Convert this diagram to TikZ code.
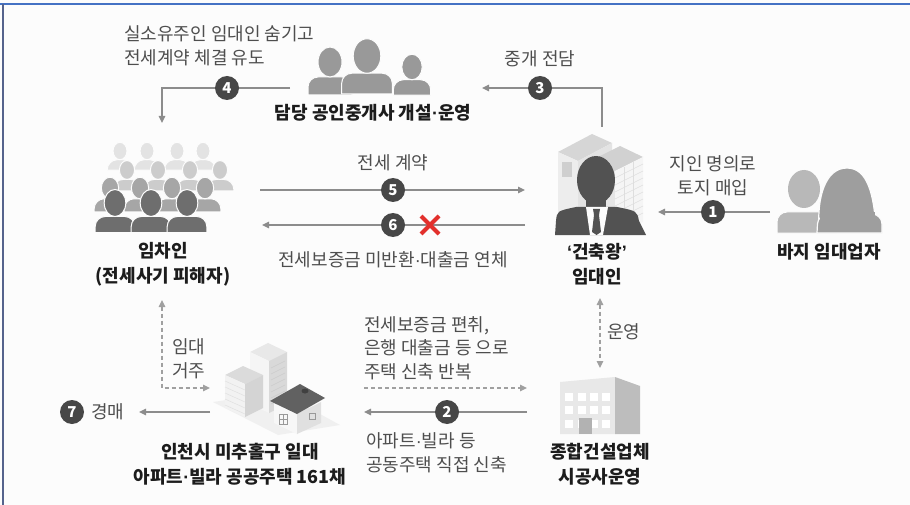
\documentclass[tikz,border=0pt]{standalone}
\usepackage{fontspec}
\setmainfont{Noto Sans CJK KR}
\newfontfamily\narrowfont{Liberation Sans}
\newcommand\mdot{{\narrowfont ·}}
\newcommand\openq{{\narrowfont\bfseries ‘}}
\newcommand\closeq{{\narrowfont\bfseries ’}}
\usetikzlibrary{arrows.meta}
\definecolor{bg}{HTML}{FCFCFC}
\definecolor{txtgray}{HTML}{4E4E4E}
\definecolor{txtdark}{HTML}{1C1C1C}
\definecolor{linegray}{HTML}{8C8C8C}
\definecolor{dashgray}{HTML}{A0A0A0}
\definecolor{circ}{HTML}{474747}
\definecolor{frameblue}{HTML}{4472C4}
\definecolor{frameside}{HTML}{55638C}
\definecolor{xred}{HTML}{E2302C}
\tikzset{
  arr/.style={draw=linegray, line width=1.5pt, -{Triangle[length=7pt,width=6.5pt]}},
  darr/.style={draw=dashgray, line width=1.3pt, dash pattern=on 4pt off 3pt, -{Triangle[length=7pt,width=6.5pt]}},
  ddarr/.style={draw=dashgray, line width=1.3pt, dash pattern=on 4pt off 3pt, {Triangle[length=7pt,width=6.5pt]}-{Triangle[length=7pt,width=6.5pt]}},
  num/.style={circle, fill=circ, text=white, inner sep=0pt, minimum size=24pt, font=\fontsize{15}{15}\selectfont\bfseries},
  note/.style={text=txtgray, inner sep=0pt, font=\fontsize{18}{24.5}\selectfont},
  lbl/.style={text=txtdark, inner sep=0pt, align=center, font=\fontsize{18}{25}\selectfont\bfseries},
  % bust silhouette: head centred on the pic origin, shoulders below it
  pics/person/.style={code={
    \fill[#1, draw=bg, line width=1pt] (-22,33) [rounded corners=10pt] -- (-22,15) -- (22,15) [sharp corners] -- (22,33) -- cycle;
    \fill[#1, draw=bg, line width=1pt] (0,0) ellipse [x radius=12, y radius=15];
  }},
}
\begin{document}
\begin{tikzpicture}[x=1pt,y=-1pt]
\useasboundingbox (0,0) rectangle (910,505);
\fill[bg] (0,0) rectangle (910,505);
\draw[frameblue, line width=1.6pt] (0,4) -- (910,4);
\draw[frameside, line width=2pt] (3,4) -- (3,505);

% ---------- brokers (three silhouettes)
\pic[scale=0.85] at (412,67) {person=black!40};
\pic[scale=1.0] at (330,62) {person=black!40};
\pic[scale=1.15] at (367,56) {person=black!40};
\node[lbl] (broker) at (373,113) {담당 공인중개사 개설\mdot 운영};

% ---------- tenants (crowd)
\foreach \x in {120,147,177,203} \pic[scale=0.58] at (\x,151) {person=black!11};
\foreach \x in {127,158,190,220} \pic[scale=0.63] at (\x,170) {person=black!20};
\foreach \x in {110,140,172,205} \pic[scale=0.72] at (\x,188) {person=black!35};
\foreach \x in {115,151,187} \pic[scale=0.9] at (\x,203) {person=black!57};
\node[lbl] (tenant) at (163,264) {임차인\\(전세사기 피해자)};

% ---------- landlord: buildings behind a suited man
\fill[black!16] (558,152) -- (592,134) -- (612,143) -- (578,161) -- cycle;
\fill[black!7] (558,152) -- (578,161) -- (578,232) -- (558,225) -- cycle;
\fill[black!19] (562,162) rectangle (572,177);
\fill[black!11] (578,161) -- (612,143) -- (612,200) -- (578,215) -- cycle;
\fill[black!18] (592,160) -- (620,146) -- (643,157) -- (615,171) -- cycle;
\fill[black!10] (592,160) -- (615,171) -- (615,235) -- (592,228) -- cycle;
\fill[black!4] (615,171) -- (643,157) -- (643,222) -- (615,235) -- cycle;
\foreach \k in {0,...,7} \draw[black!13, line width=0.6pt] (615,178+7*\k) -- (643,164+7*\k);
\draw[black!13, line width=0.6pt] (624,167) -- (624,232) (633,162) -- (633,228);
\fill[black!68] (586,195) rectangle (606,212);
\fill[black!68] (596,180) ellipse [x radius=19, y radius=24];
\fill[black!68] (555,235) -- (556,221) .. controls (557,211) .. (576,207) -- (617,207) .. controls (637,211) .. (639,221) -- (646,235) -- cycle;
\fill[bg] (586,207) -- (608,207) -- (603,235) -- (590,235) -- cycle;
\fill[black!68] (593,209) -- (600,209) -- (599,215) -- (594,215) -- cycle;
\fill[black!68] (594,215) -- (599,215) -- (601,232) -- (596.5,235) -- (592,232) -- cycle;
\node[lbl] (landlord) at (597,264) {\openq 건축왕\closeq\\임대인};

% ---------- nominee landlords (man and woman)
\fill[black!28, draw=bg, line width=1pt] (777,233) [rounded corners=10pt] -- (777,212) -- (837,212) [sharp corners] -- (837,233) -- cycle;
\fill[black!28] (804,189) ellipse [x radius=16, y radius=19];
\fill[black!38, draw=bg, line width=1.2pt] (819,229) .. controls (817,198) and (825,168) .. (847,168) .. controls (868,168) and (874,196) .. (876,229) -- cycle;
\fill[black!38, draw=bg, line width=1.2pt] (817,233) [rounded corners=10pt] -- (818,214) -- (882,214) [sharp corners] -- (882,233) -- cycle;
\fill[black!38] (820,212) rectangle (875,228);
\node[lbl] (nominee) at (829,252) {바지 임대업자};

% ---------- houses in the district
\fill[black!6] (213,402) -- (278,435) -- (340,425) -- (280,392) -- cycle;
\fill[black!9] (250,352) -- (268,343) -- (287,352) -- (269,361) -- cycle;
\fill[black!4] (250,352) -- (269,361) -- (269,413) -- (250,404) -- cycle;
\fill[black!15] (269,361) -- (287,352) -- (287,404) -- (269,413) -- cycle;
\foreach \k in {0,...,6} \draw[black!20, line width=0.5pt] (271,368+6*\k) -- (285,361+6*\k);
\fill[black!14] (225,375) -- (243,366) -- (263,375) -- (245,384) -- cycle;
\fill[black!5] (225,375) -- (245,384) -- (245,417) -- (225,408) -- cycle;
\fill[black!17] (245,384) -- (263,375) -- (263,408) -- (245,417) -- cycle;
\foreach \k in {0,...,4} \draw[black!12, line width=0.5pt] (225,381+6*\k) -- (245,390+6*\k);
\fill[black!3] (274,403) -- (297,414) -- (297,434) -- (274,423) -- cycle;
\fill[black!12] (297,414) -- (321,402) -- (321,423) -- (297,434) -- cycle;
\fill[black!62] (270,401) -- (300,384) -- (325,398) -- (297,414) -- cycle;
\fill[black!75] (305,391) ellipse [x radius=3.5, y radius=2.5];
\draw[black!40, line width=0.6pt] (279,414) rectangle (287,424) (283,414) -- (283,424) (279,419) -- (287,419);
\draw[black!40, line width=0.6pt] (309,413) rectangle (315,419);
\node[lbl] (houses) at (240,464) {인천시 미추홀구 일대\\아파트\mdot 빌라 공공주택 161채};

% ---------- construction company building
\fill[black!9] (560,382) -- (615,377) -- (615,434) -- (560,434) -- cycle;
\fill[black!26] (615,377) -- (640,386) -- (640,434) -- (615,434) -- cycle;
\foreach \yy in {393,406,420} \foreach \xx in {565,578,590,602} \fill[white] (\xx,\yy) rectangle (\xx+8,\yy+8);
\fill[black!30] (579,418) rectangle (592,434);
\node[lbl] (company) at (600,464) {종합건설업체\\시공사운영};

% ---------- connector end points
\coordinate (b4s) at (290,88);
\coordinate (b4e) at (162,123);
\coordinate (l3s) at (602,127);
\coordinate (l3e) at (482,88);
\coordinate (t5s) at (260,190);
\coordinate (t5e) at (525,190);
\coordinate (t6s) at (525,225);
\coordinate (t6e) at (262,225);
\coordinate (n1s) at (770,212);
\coordinate (n1e) at (658,212);
\coordinate (tup) at (162,300);
\coordinate (hin) at (210,388);
\coordinate (c2s) at (364,388);
\coordinate (c2e) at (527,388);
\coordinate (h2s) at (527,412);
\coordinate (h2e) at (364,412);
\coordinate (h7s) at (210,412);
\coordinate (h7e) at (139,412);
\coordinate (lup) at (600,298);
\coordinate (cdn) at (600,368);

% ---------- connectors
\draw[arr] (b4s) -| (b4e);
\draw[arr] (l3s) |- (l3e);
\draw[arr] (t5s) -- (t5e);
\draw[arr] (t6s) -- (t6e);
\draw[arr] (n1s) -- (n1e);
\draw[ddarr] (tup) |- (hin);
\draw[darr] (c2s) -- (c2e);
\draw[arr] (h2s) -- (h2e);
\draw[arr] (h7s) -- (h7e);
\draw[ddarr] (lup) -- (cdn);

% ---------- step markers
\node[num] (s1) at (713,212) {1};
\node[num] (s2) at (447,412) {2};
\node[num] (s3) at (540,88) {3};
\node[num] (s4) at (227,88) {4};
\node[num] (s5) at (393,190) {5};
\node[num] (s6) at (393,225) {6};
\node[num] (s7) at (72,412) {7};
\draw[xred, line width=4pt] (421,216) -- (439,234) (439,216) -- (421,234);

% ---------- captions
\node[note, align=left, anchor=west] (t4) at (124,46) {실소유주인 임대인 숨기고\\전세계약 체결 유도};
\node[note] (t3) at (540,59) {중개 전담};
\node[note, align=center] (t1) at (713,176) {지인 명의로\\토지 매입};
\node[note] (t5) at (393,163) {전세 계약};
\node[note] (t6) at (393,260) {전세보증금 미반환\mdot 대출금 연체};
\node[note, align=left, anchor=west] (trent) at (172,359) {임대\\거주};
\node[note, anchor=west] (t7) at (91,412) {경매};
\node[note, align=left, anchor=west, font=\fontsize{18}{23.5}\selectfont] (t2a) at (364,348) {전세보증금 편취,\\은행 대출금 등 으로\\주택 신축 반복};
\node[note, align=left, anchor=west] (t2b) at (366,453) {아파트\mdot 빌라 등\\공동주택 직접 신축};
\node[note, anchor=west] (top) at (607,332) {운영};
\end{tikzpicture}
\end{document}
